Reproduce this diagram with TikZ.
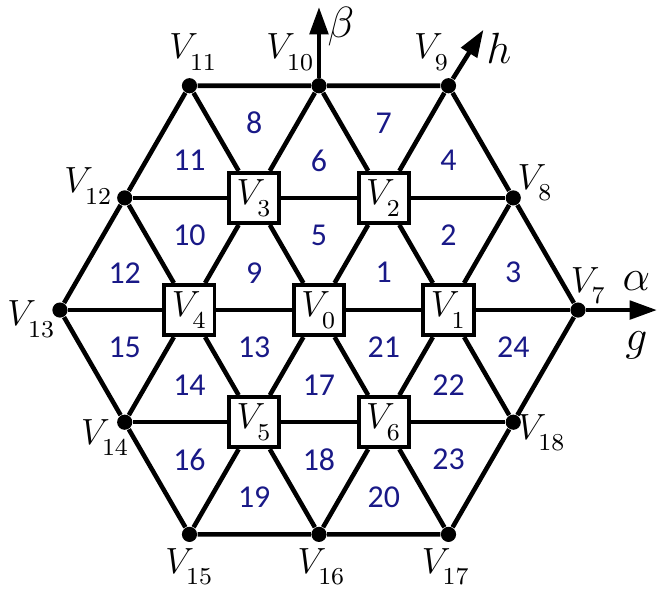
\documentclass[tikz,border=0pt]{standalone}
\usepackage{fontspec}
\usepackage{xcolor}
\usepackage{tikz}
\usetikzlibrary{arrows.meta, positioning, calc}

\newfontfamily\numfont{Carlito}
\DeclareMathSizes{13}{13}{8.5}{6}
\definecolor{tri}{RGB}{25,25,135}
\newcommand{\vtx}[1]{$V_{\lower2pt\hbox{$\scriptstyle #1$}}$}

\tikzset{
  edge/.style={line width=1.5pt},
  dot/.style={circle, fill, inner sep=0pt, minimum size=5pt},
  vbox/.style={draw, fill=white, line width=1.3pt, minimum size=16.5pt, inner sep=0pt,
    font=\fontsize{13}{15}\selectfont},
  vlab/.style={inner sep=0pt, font=\fontsize{13}{15}\selectfont},
  num/.style={text=tri, inner sep=0pt, font=\numfont\fontsize{10.5}{12}\selectfont},
  axis/.style={line width=1.5pt, -{Triangle[length=9pt,width=6pt]}},
  axlab/.style={inner sep=0pt, font=\fontsize{14}{16}\selectfont}
}

\begin{document}
\begin{tikzpicture}[x=1.5cm, y=1.5cm]
  \useasboundingbox (-2.463,-2.154) rectangle (2.687,2.394);

  % Inner vertices (boxes)
  \node[vbox] (V0) at (0,0) {\vtx{0}};
  \foreach \i in {1,...,6}
    \node[vbox] (V\i) at ({(\i-1)*60}:1) {\vtx{\i}};

  % Outer vertices (dots)
  \foreach \i in {0,...,5} {
    \pgfmathtruncatemacro{\c}{7+2*\i}
    \pgfmathtruncatemacro{\m}{8+2*\i}
    \node[dot] (V\c) at ({\i*60}:2) {};
    \node[dot] (V\m) at ({\i*60+30}:{sqrt(3)}) {};
  }

  % Hexagon border
  \draw[edge] (V7) -- (V8) -- (V9) -- (V10) -- (V11) -- (V12) -- (V13)
    -- (V14) -- (V15) -- (V16) -- (V17) -- (V18) -- (V7);

  % Horizontal lines
  \draw[edge] (V12) -- (V3) -- (V2) -- (V8);
  \draw[edge] (V13) -- (V4) -- (V0) -- (V1) -- (V7);
  \draw[edge] (V14) -- (V5) -- (V6) -- (V18);

  % 60 degree lines
  \draw[edge] (V15) -- (V5) -- (V0) -- (V2) -- (V9);
  \draw[edge] (V16) -- (V6) -- (V1) -- (V8);
  \draw[edge] (V14) -- (V4) -- (V3) -- (V10);

  % 120 degree lines
  \draw[edge] (V17) -- (V6) -- (V0) -- (V3) -- (V11);
  \draw[edge] (V18) -- (V1) -- (V2) -- (V10);
  \draw[edge] (V16) -- (V5) -- (V4) -- (V12);

  % Axes
  \coordinate (btip) at (0,2.34);
  \coordinate (htip) at ($(V9)+(58:0.51)$);
  \coordinate (atip) at (2.61,0);
  \draw[axis] (V10) -- (btip);
  \draw[axis] (V9) -- (htip);
  \draw[axis] (V7) -- (atip);
  \node[axlab] (beta) at (0.17,2.19) {$\beta$};
  \node[axlab] (hlab) at (1.39,2.02) {$h$};
  \node[axlab] (alab) at (2.45,0.22) {$\alpha$};
  \node[axlab] (glab) at (2.45,-0.27) {$g$};

  % Vertex labels
  \foreach \n/\dx/\dy in {7/0.08/0.19, 8/0.17/0.12, 9/-0.13/0.26, 10/-0.22/0.26,
      11/0.03/0.26, 12/-0.28/0.09, 13/-0.22/-0.07, 14/-0.15/-0.12,
      15/0/-0.25, 16/0.02/-0.25, 17/-0.02/-0.25, 18/0.22/-0.08}
    \node[vlab] (L\n) at ($(V\n)+(\dx,\dy)$) {\vtx{\n}};

  % Triangle numbers
  \foreach \t/\a/\b/\c in {1/0/1/2, 2/1/2/8, 3/1/8/7, 4/2/8/9, 5/0/2/3, 6/2/3/10,
      7/2/9/10, 8/3/10/11, 9/0/3/4, 10/3/4/12, 11/3/11/12, 12/4/12/13,
      13/0/4/5, 14/4/5/14, 15/4/13/14, 16/5/14/15, 17/0/5/6, 18/5/6/16,
      19/5/15/16, 20/6/16/17, 21/0/1/6, 22/1/6/18, 23/6/17/18, 24/1/7/18}
    \node[num] (T\t) at (barycentric cs:V\a=1,V\b=1,V\c=1) {\t};
\end{tikzpicture}
\end{document}
